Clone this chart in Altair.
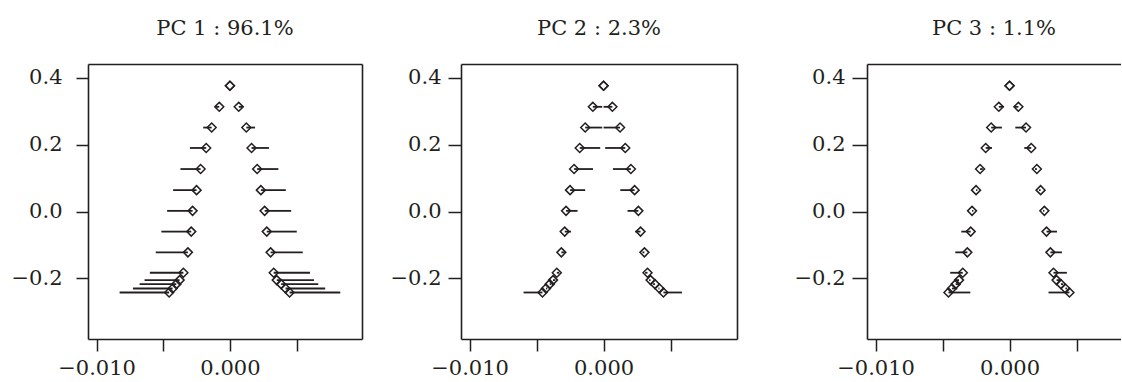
import altair as alt
import pandas as pd

# ---- data ----
PANEL_TITLES = ["PC 1 : 96.1%", "PC 2 : 2.3%", "PC 3 : 1.1%"]

Y_LEVELS = [0.376, 0.313, 0.251, 0.190, 0.127, 0.064, 0.002, -0.060, -0.122,
            -0.183, -0.205, -0.217, -0.230, -0.242]
MEAN_LEFT = [0.0, -0.0008, -0.00137, -0.00178, -0.0022, -0.0025, -0.0028, -0.0029,
             -0.00315, -0.00349, -0.00377, -0.00402, -0.0043, -0.00456]
MEAN_RIGHT = [0.0, 0.00066, 0.00123, 0.00162, 0.00204, 0.00232, 0.0026, 0.00276,
              0.00305, 0.00328, 0.00351, 0.00384, 0.00417, 0.00447]

PC1_LEFT_END = [0.0, -0.0011, -0.0020, -0.0030, -0.00371, -0.00426, -0.00471, -0.00514,
                -0.00556, -0.0060, -0.0064, -0.00677, -0.00727, -0.00827]
PC1_RIGHT_END = [0.0, 0.0010, 0.00188, 0.00293, 0.00363, 0.00419, 0.00459, 0.00501,
                 0.00546, 0.0060, 0.0063, 0.00662, 0.00714, 0.00827]

PC2_LEFT_END = [0.0, -0.0001, -0.0001, -0.00025, -0.00079, -0.00137, -0.00194, -0.00243,
                -0.0029, -0.0033, -0.0036, -0.0039, -0.0042, -0.00597]
PC2_RIGHT_END = [0.0, 0.0, 0.0, 0.00012, 0.0007, 0.00125, 0.00179, 0.00237,
                 0.0029, 0.0031, 0.0034, 0.0037, 0.0041, 0.00585]

PC3_LEFT_END = [0.0, -0.00045, -0.00057, -0.00131, -0.0020, -0.0024, -0.0027, -0.0036,
                -0.00405, -0.00443, -0.0041, -0.0038, -0.0039, -0.00293]
PC3_RIGHT_END = [0.0, 0.00037, 0.00043, 0.0011, 0.0019, 0.0022, 0.0025, 0.00354,
                 0.00391, 0.00428, 0.0038, 0.0040, 0.0043, 0.00291]

X_TICKS = [-0.010, -0.005, 0.0, 0.005]
Y_TICKS = [0.4, 0.2, 0.0, -0.2]

FONT = "DejaVu Serif"
INK = "#231f20"


def build_df(left_end, right_end):
    rows = []
    for y, xl, xr, el, er in zip(Y_LEVELS, MEAN_LEFT, MEAN_RIGHT, left_end, right_end):
        rows.append({"y": y, "x": xl, "x2": el})
        rows.append({"y": y, "x": xr, "x2": er})
    return pd.DataFrame(rows)


def panel(df, title, width, x_max, ytick, ypad, right_border):
    xs = alt.Scale(domain=[-0.01064, x_max], nice=False, zero=False)
    ys = alt.Scale(domain=[-0.381, 0.441], nice=False, zero=False)
    x_axis = alt.Axis(values=X_TICKS, format=".3f",
                      labelExpr="datum.value == 0 || datum.value == -0.01 ? datum.label : ''",
                      tickSize=12, labelPadding=6, title=None)
    y_axis = alt.Axis(values=Y_TICKS, format=".1f", tickSize=ytick,
                      labelPadding=ypad, title=None)
    border_x = alt.Axis(orient="top", labels=False, ticks=False, domain=True, title=None)
    border_y = alt.Axis(orient="right", labels=False, ticks=False, domain=True, title=None) \
        if right_border else None

    base = alt.Chart(df)
    rules = base.mark_rule(color=INK, strokeWidth=1.8).encode(
        x=alt.X("x:Q", scale=xs, axis=x_axis),
        x2="x2:Q",
        y=alt.Y("y:Q", scale=ys, axis=y_axis),
    )
    pts = base.mark_point(shape="diamond", size=80, filled=False, color=INK,
                          strokeWidth=1.5, opacity=1).encode(
        x=alt.X("x:Q", scale=xs, axis=border_x),
        y=alt.Y("y:Q", scale=ys, axis=border_y),
    )
    return alt.layer(rules, pts).resolve_axis(x="independent", y="independent").properties(
        width=width, height=275,
        title=alt.TitleParams(title, font=FONT, fontSize=21, fontWeight="normal",
                              color=INK, baseline="alphabetic", offset=8, anchor="middle"),
    )


p1 = panel(build_df(PC1_LEFT_END, PC1_RIGHT_END), PANEL_TITLES[0], 274, 0.0099, 12, 14, True)
p2 = panel(build_df(PC2_LEFT_END, PC2_RIGHT_END), PANEL_TITLES[1], 276, 0.00996, 13, 7, True)
p3 = panel(build_df(PC3_LEFT_END, PC3_RIGHT_END), PANEL_TITLES[2], 254, 0.00832, 15, 7, False)

chart = alt.hconcat(alt.hconcat(p1, p2, spacing=28), p3, spacing=57).properties(
    padding={"left": 11, "top": 18, "right": 0, "bottom": 0}
).configure_view(stroke=None).configure_axis(
    grid=False, domainColor=INK, domainWidth=1.6, tickColor=INK, tickWidth=1.5,
    labelFont=FONT, labelFontSize=21, labelColor=INK,
)

chart.save("out.html", embed_options={"renderer": "svg", "actions": False})
